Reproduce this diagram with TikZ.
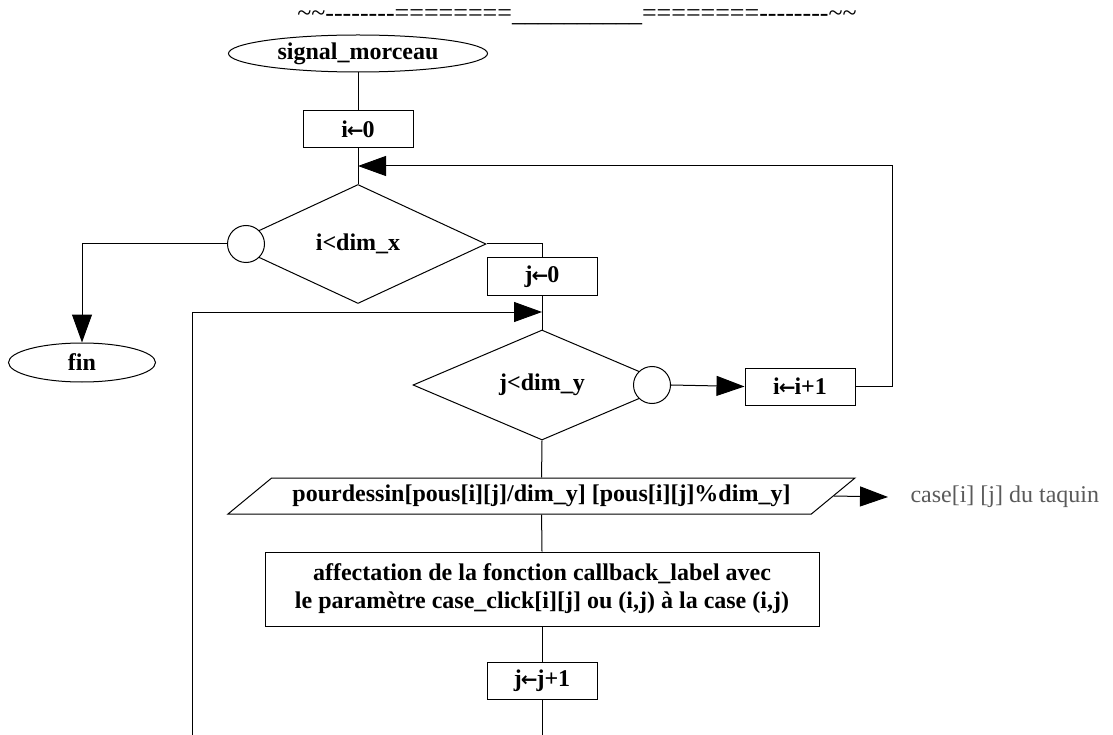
\documentclass[tikz,border=0pt]{standalone}
\usepackage{fontspec}
\setmainfont{Liberation Serif}
\newfontfamily\titlefont{Liberation Serif}[Ligatures=TeXOff]
\newfontfamily\arrowfont{DejaVu Sans}
\newcommand{\la}{{\arrowfont\fontsize{20}{20}\selectfont\bfseries\kern-1pt←\kern-1pt}}
\usetikzlibrary{shapes.geometric,arrows.meta,calc}
\definecolor{capgray}{HTML}{5A5A5A}
\begin{document}
\begin{tikzpicture}[x=1pt,y=-1pt, line width=1pt,
  every node/.style={font=\fontsize{24}{28}\selectfont\bfseries},
  box/.style={draw, rectangle, inner sep=0pt, minimum width=110pt, minimum height=37pt},
  term/.style={draw, ellipse, inner sep=0pt},
  dec/.style={draw, diamond, inner sep=0pt, shape aspect=2.2},
  conn/.style={draw, circle, fill=white, inner sep=0pt, minimum size=37pt},
  arr/.style={-{Triangle[length=28pt,width=20pt]}},
]
\useasboundingbox (0,0) rectangle (1113,735);
\node[font=\titlefont\fontsize{26}{26}\selectfont] (title) at (577,17)
  {\textasciitilde\textasciitilde--------========\_\_\_\_\_\_\_\_\_\_========--------\textasciitilde\textasciitilde};
\node[term, minimum width=259pt, minimum height=37pt] (sig) at (358,53.5) {signal\_morceau};
\node[box] (i0) at (358,129) {i\la0};
\node[dec, minimum width=256pt, minimum height=119pt] (d1) at (358,244) {i<dim\_x};
\node[conn] (c1) at (246,244) {};
\node[term, minimum width=147pt, minimum height=39pt] (fin) at (82,362.5) {fin};
\node[box] (j0) at (542,276.5) {j\la0};
\node[dec, minimum width=258pt, minimum height=110pt] (d2) at (542,385) {j<dim\_y};
\node[conn] (c2) at (652,385) {};
\node[box] (ii) at (800,386.5) {i\la i+1};
\node[trapezium, draw, trapezium left angle=26.57, trapezium right angle=153.43,
  trapezium stretches body, minimum width=627pt, minimum height=36pt, inner sep=0pt]
  (para) at (541.5,496) {pourdessin[pous[i][j]/dim\_y] [pous[i][j]\%dim\_y]};
\node[box, minimum width=554pt, minimum height=74pt, align=center] (aff) at (542,589)
  {affectation de la fonction callback\_label avec\\le paramètre case\_click[i][j] ou (i,j) à la case (i,j)};
\node[box] (j1) at (542,680.5) {j\la j+1};
\node[font=\fontsize{24}{24}\selectfont, text=capgray, anchor=west, inner sep=0pt] (cap) at (910,497) {case[i] [j] du taquin};
\coordinate (m1) at (358,166);
\coordinate (m2) at (542,312);
\coordinate (r) at (892,166);
\coordinate (bot1) at (542,735);
\coordinate (bot2) at (192,735);
\coordinate (pe) at ($(para.top right corner)!0.5!(para.bottom right corner)$);
\draw (sig.south) -- (i0.north);
\draw (i0.south) -- (d1.north);
\draw[arr] (c1.west) -| (fin.north);
\draw (d1.east) -| (j0.north);
\draw (j0.south) -- (d2.north);
\draw[arr] (bot2) |- (m2);
\draw[arr] (c2.east) -- (ii.west);
\draw[arr] (ii.east) -| (r) -- (m1);
\draw (d2.south) -- (para.north);
\draw[arr] (pe) -- ([xshift=-22pt]cap.west);
\draw (para.south) -- (aff.north);
\draw (aff.south) -- (j1.north);
\draw (j1.south) -- (bot1);
\end{tikzpicture}
\end{document}
